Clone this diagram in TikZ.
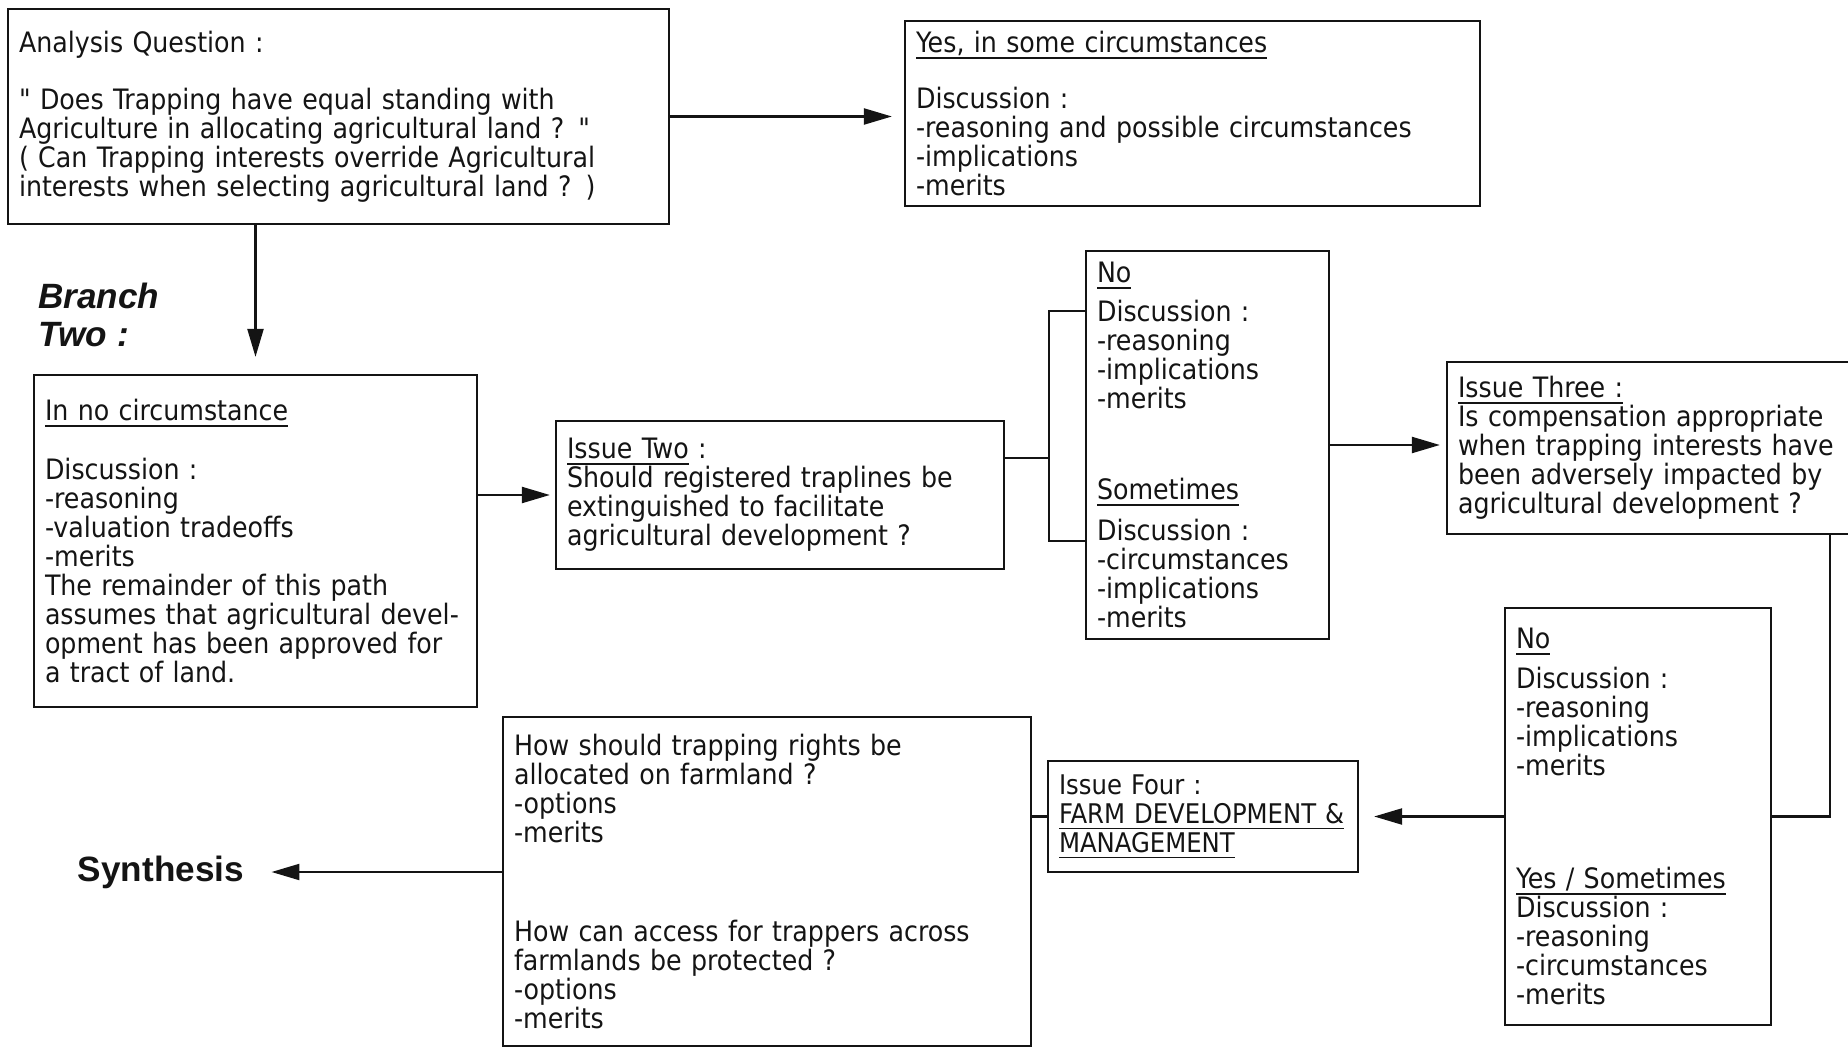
\documentclass[tikz,border=0pt]{standalone}
\usepackage{fontspec}
\setmainfont{DejaVu Sans Condensed}
\newfontfamily\headfont{Liberation Sans}
\usetikzlibrary{arrows.meta,calc}
\definecolor{ink}{HTML}{141414}
\tikzset{
  box/.style={draw=ink,line width=1.1pt,anchor=north west,align=left,inner xsep=0.22cm,inner ysep=2pt,outer sep=0pt,text=ink,font=\bodyfont},
  line/.style={draw=ink,line width=1.2pt},
  arr/.style={-{Triangle[length=16pt,width=9pt]},line width=1.6pt,ink},
  head/.style={inner sep=0pt,text=ink,align=left}
}
\newcommand{\bodyfont}{\fontsize{16}{16.5}\selectfont}
\newcommand{\dq}{\XeTeXglyph\XeTeXcharglyph"22\relax}
\newcommand{\undl}[1]{\leavevmode\setbox0=\hbox{#1}\rlap{\rule[-3.5pt]{\wd0}{1.1pt}}\box0\relax}

\begin{document}
\begin{tikzpicture}[x=1cm,y=1cm]
\useasboundingbox (0,0) rectangle (36.96,20.98);
\clip (0,0) rectangle (36.96,20.98);
% ---------------- question and first answers ----------------
\node[box,text width=12.78cm,minimum height=4.30cm] (quest) at (0.16,20.80) {Analysis Question :\\[16pt]
\dq{} Does Trapping have equal standing with\\
Agriculture in allocating agricultural land ? \dq\\
( Can Trapping interests override Agricultural\\
interests when selecting agricultural land ? )};
\node[box,text width=11.06cm,minimum height=3.70cm] (yes) at (18.10,20.56) {\undl{Yes, in some circumstances}\\[15pt]
Discussion :\\
-reasoning and possible circumstances\\
-implications\\
-merits};
\node[head,anchor=north west,font=\headfont\bfseries\itshape\fontsize{20}{21.6}\selectfont] (branch) at (0.76,15.32) {Branch\\Two :};
\node[box,text width=8.42cm,minimum height=6.64cm] (nocirc) at (0.68,13.48) {\undl{In no circumstance}\\[17pt]
Discussion :\\
-reasoning\\
-valuation tradeoffs\\
-merits\\
The remainder of this path\\
assumes that agricultural devel-\\
opment has been approved for\\
a tract of land.};
% ---------------- issue two ----------------
\node[box,text width=8.52cm,minimum height=2.96cm] (issuetwo) at (11.12,12.56) {\undl{Issue Two} :\\
Should registered traplines be\\
extinguished to facilitate\\
agricultural development ?};
\node[box,text width=4.42cm,minimum height=7.76cm] (twoans) at (21.72,15.96) {\undl{No}\\[6pt]
Discussion :\\
-reasoning\\
-implications\\
-merits\\[35pt]
\undl{Sometimes}\\[7pt]
Discussion :\\
-circumstances\\
-implications\\
-merits};
% ---------------- issue three ----------------
\node[box,text width=8.02cm,minimum height=3.44cm] (issuethree) at (28.94,13.74) {\undl{Issue Three :}\\
Is compensation appropriate\\
when trapping interests have\\
been adversely impacted by\\
agricultural development ?};
\node[box,text width=4.88cm,minimum height=8.34cm] (threeans) at (30.10,8.82) {\undl{No}\\[6pt]
Discussion :\\
-reasoning\\
-implications\\
-merits\\[48pt]
\undl{Yes / Sometimes}\\
Discussion :\\
-reasoning\\
-circumstances\\
-merits};
% ---------------- issue four and synthesis ----------------
\node[box,text width=5.76cm,minimum height=2.22cm,font=\fontsize{15.4}{16.5}\selectfont] (issuefour) at (20.96,5.76) {Issue Four :\\
\undl{FARM DEVELOPMENT \&}\\
\undl{MANAGEMENT}};
\node[box,text width=10.12cm,minimum height=6.58cm] (farm) at (10.06,6.64) {How should trapping rights be\\
allocated on farmland ?\\
-options\\
-merits\\[40pt]
How can access for trappers across\\
farmlands be protected ?\\
-options\\
-merits};
\node[head,font=\headfont\bfseries\fontsize{20}{24}\selectfont] (synth) at (3.22,3.54) {Synthesis};
% ---------------- connectors ----------------
\draw[arr,shorten >=0.26cm] (quest.east) -- (quest.east -| yes.west);
\draw[arr,shorten >=0.36cm] (nocirc.north |- quest.south) -- (nocirc.north);
\draw[arr,shorten >=0.12cm] (nocirc.east |- issuetwo.west) -- (issuetwo.west);
\draw[line] ($(issuetwo.north east)!0.25!(issuetwo.south east)$) -- ++(0.9,0) coordinate (fork);
\draw[line] ($(twoans.north west)!0.155!(twoans.south west)$) -| (fork) |- ($(twoans.north west)!0.747!(twoans.south west)$);
\draw[arr,shorten >=0.14cm] (twoans.east) -- (twoans.east -| issuethree.west);
\draw[line] ([xshift=7.66cm]issuethree.south west) |- (threeans.east);
\draw[arr,shorten >=0.32cm] (threeans.west) -- (threeans.west -| issuefour.east);
\draw[line] (issuefour.west) -- (issuefour.west -| farm.east);
\draw[arr,shorten >=0.54cm] (farm.west |- synth.east) -- (synth.east);
\end{tikzpicture}
\end{document}
